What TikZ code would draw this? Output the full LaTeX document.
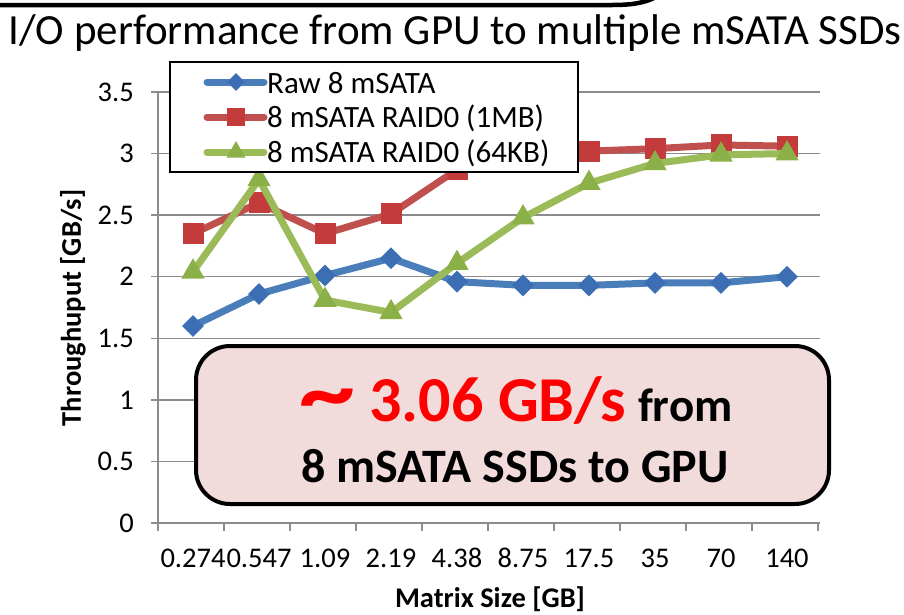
\documentclass[tikz,border=0pt]{standalone}
\usepackage{fontspec}
\setmainfont{Carlito}
\usetikzlibrary{shapes.geometric}

\definecolor{serBlue}{HTML}{4A7EBB}
\definecolor{mkBlue}{HTML}{3C6EB4}
\definecolor{serRed}{HTML}{C0504D}
\definecolor{mkRed}{HTML}{C33B3A}
\definecolor{serGreen}{HTML}{9BBB59}
\definecolor{mkGreen}{HTML}{8AB047}
\definecolor{gridGray}{HTML}{8C8C8C}
\definecolor{calloutFill}{HTML}{F2DCDB}
\definecolor{hlRed}{HTML}{FF0000}

\tikzset{
  gridline/.style={draw=gridGray, line width=1.4pt},
  axisline/.style={draw=gridGray, line width=1.4pt},
  serline/.style={line width=7pt, line join=round, line cap=round},
  bmark/.style={diamond, fill=mkBlue, inner sep=0pt, minimum size=22pt},
  rmark/.style={rectangle, fill=mkRed, inner sep=0pt, minimum size=21pt},
  gmark/.style={regular polygon, regular polygon sides=3, fill=mkGreen, inner sep=0pt, minimum size=27pt},
  ticklabel/.style={font=\fontsize{28.5}{30}\selectfont, inner sep=0pt},
  axistitle/.style={font=\bfseries\fontsize{28.5}{30}\selectfont, inner sep=0pt},
  legendtext/.style={font=\fontsize{31}{33}\selectfont, anchor=west, inner sep=0pt},
}

\begin{document}
\begin{tikzpicture}[x=1pt, y=-1pt]
\useasboundingbox (0,0) rectangle (904,614);

% lower edge of the frame above the heading
\draw[line width=4.5pt] (-10,5) -- (612,5) .. controls (636,5) and (650,2) .. (664,-8);

% heading
\node[anchor=base, inner sep=0pt, font=\fontsize{43}{45}\selectfont] (title) at (455,44)
  {I/O performance from GPU to multiple mSATA SSDs};

% chart area: categories 66pt apart, 123.14pt per GB/s
\begin{scope}[shift={(193,523)}, x=66pt, y=123.14pt]
  \foreach \v in {0.5,1,1.5,2,2.5,3,3.5}
    \draw[gridline] (-0.53,\v) -- (9.5,\v);
  \draw[axisline] (-0.53,0) -- (9.5,0);
  \draw[axisline] (-0.53,0) -- (-0.53,3.5);
  \foreach \v in {0,0.5,1,1.5,2,2.5,3,3.5} {
    \draw[axisline] (-0.53,\v) -- ++(-7pt,0);
    \node[ticklabel, anchor=east] (yl\v) at ([xshift=-24pt]-0.53,\v) {\v};
  }
  \foreach \i in {0,...,10}
    \draw[axisline] (\i-0.53,0) -- ++(0,-8pt);
  \foreach \lab [count=\i from 0] in {0.274,0.547,1.09,2.19,4.38,8.75,17.5,35,70,140}
    \node[ticklabel, anchor=base] (xl\i) at ([yshift=-44pt]\i,0) {\lab};

  % Raw 8 mSATA
  \draw[serline, serBlue] plot coordinates {(0,1.6) (1,1.86) (2,2.01) (3,2.15) (4,1.96)
    (5,1.93) (6,1.93) (7,1.95) (8,1.95) (9,2.0)};
  \foreach \v [count=\i from 0] in {1.6,1.86,2.01,2.15,1.96,1.93,1.93,1.95,1.95,2.0}
    \node[bmark] (b\i) at (\i,\v) {};

  % 8 mSATA RAID0 (1MB)
  \draw[serline, serRed] plot coordinates {(0,2.35) (1,2.6) (2,2.35) (3,2.51) (4,2.87)
    (5,2.95) (6,3.02) (7,3.04) (8,3.07) (9,3.06)};
  \foreach \v [count=\i from 0] in {2.35,2.6,2.35,2.51,2.87,2.95,3.02,3.04,3.07,3.06}
    \node[rmark] (r\i) at (\i,\v) {};

  % 8 mSATA RAID0 (64KB)
  \draw[serline, serGreen] plot coordinates {(0,2.04) (1,2.79) (2,1.81) (3,1.71) (4,2.11)
    (5,2.48) (6,2.76) (7,2.92) (8,2.99) (9,3.0)};
  \foreach \v [count=\i from 0] in {2.04,2.79,1.81,1.71,2.11,2.48,2.76,2.92,2.99,3.0}
    \node[gmark] (g\i) at (\i,\v) {};
\end{scope}

% axis titles
\node[axistitle, rotate=90] (ytitle) at (73,308) {Throughuput [GB/s]};
\node[axistitle, anchor=base] (xtitle) at (490,607) {Matrix Size [GB]};

% legend
\node[draw, line width=1.6pt, fill=white, minimum width=408pt, minimum height=110pt,
  inner sep=0pt] (legend) at (374,117) {};
\draw[serline, serBlue] (207,82) -- (264,82);
\node[bmark, minimum size=18pt] (lb) at (236,82) {};
\node[legendtext] (lbt) at (267,83) {Raw 8 mSATA};
\draw[serline, serRed] (207,117) -- (264,117);
\node[rmark, minimum size=18pt] (lr) at (236,117) {};
\node[legendtext] (lrt) at (267,118) {8 mSATA RAID0 (1MB)};
\draw[serline, serGreen] (207,152) -- (264,152);
\node[gmark, minimum size=22pt] (lg) at (236,152) {};
\node[legendtext] (lgt) at (267,153) {8 mSATA RAID0 (64KB)};

% callout
\node[draw, line width=4pt, fill=calloutFill, rounded corners=34pt,
  minimum width=633pt, minimum height=158pt, inner sep=0pt] (callout) at (512.5,425) {};
\node[anchor=base, inner sep=0pt, font=\bfseries] (rate) at (516,421)
  {{\color{hlRed}\fontsize{64}{66}\selectfont\raisebox{-2pt}{\scalebox{1.75}[1.45]{\textasciitilde}}\hspace{14pt}3.06 GB/s}\hspace{12pt}{\fontsize{47}{49}\selectfont from}};
\node[anchor=base, inner sep=0pt, font=\bfseries\fontsize{48}{50}\selectfont] (what) at (515,482)
  {8 mSATA SSDs to GPU};
\end{tikzpicture}
\end{document}
